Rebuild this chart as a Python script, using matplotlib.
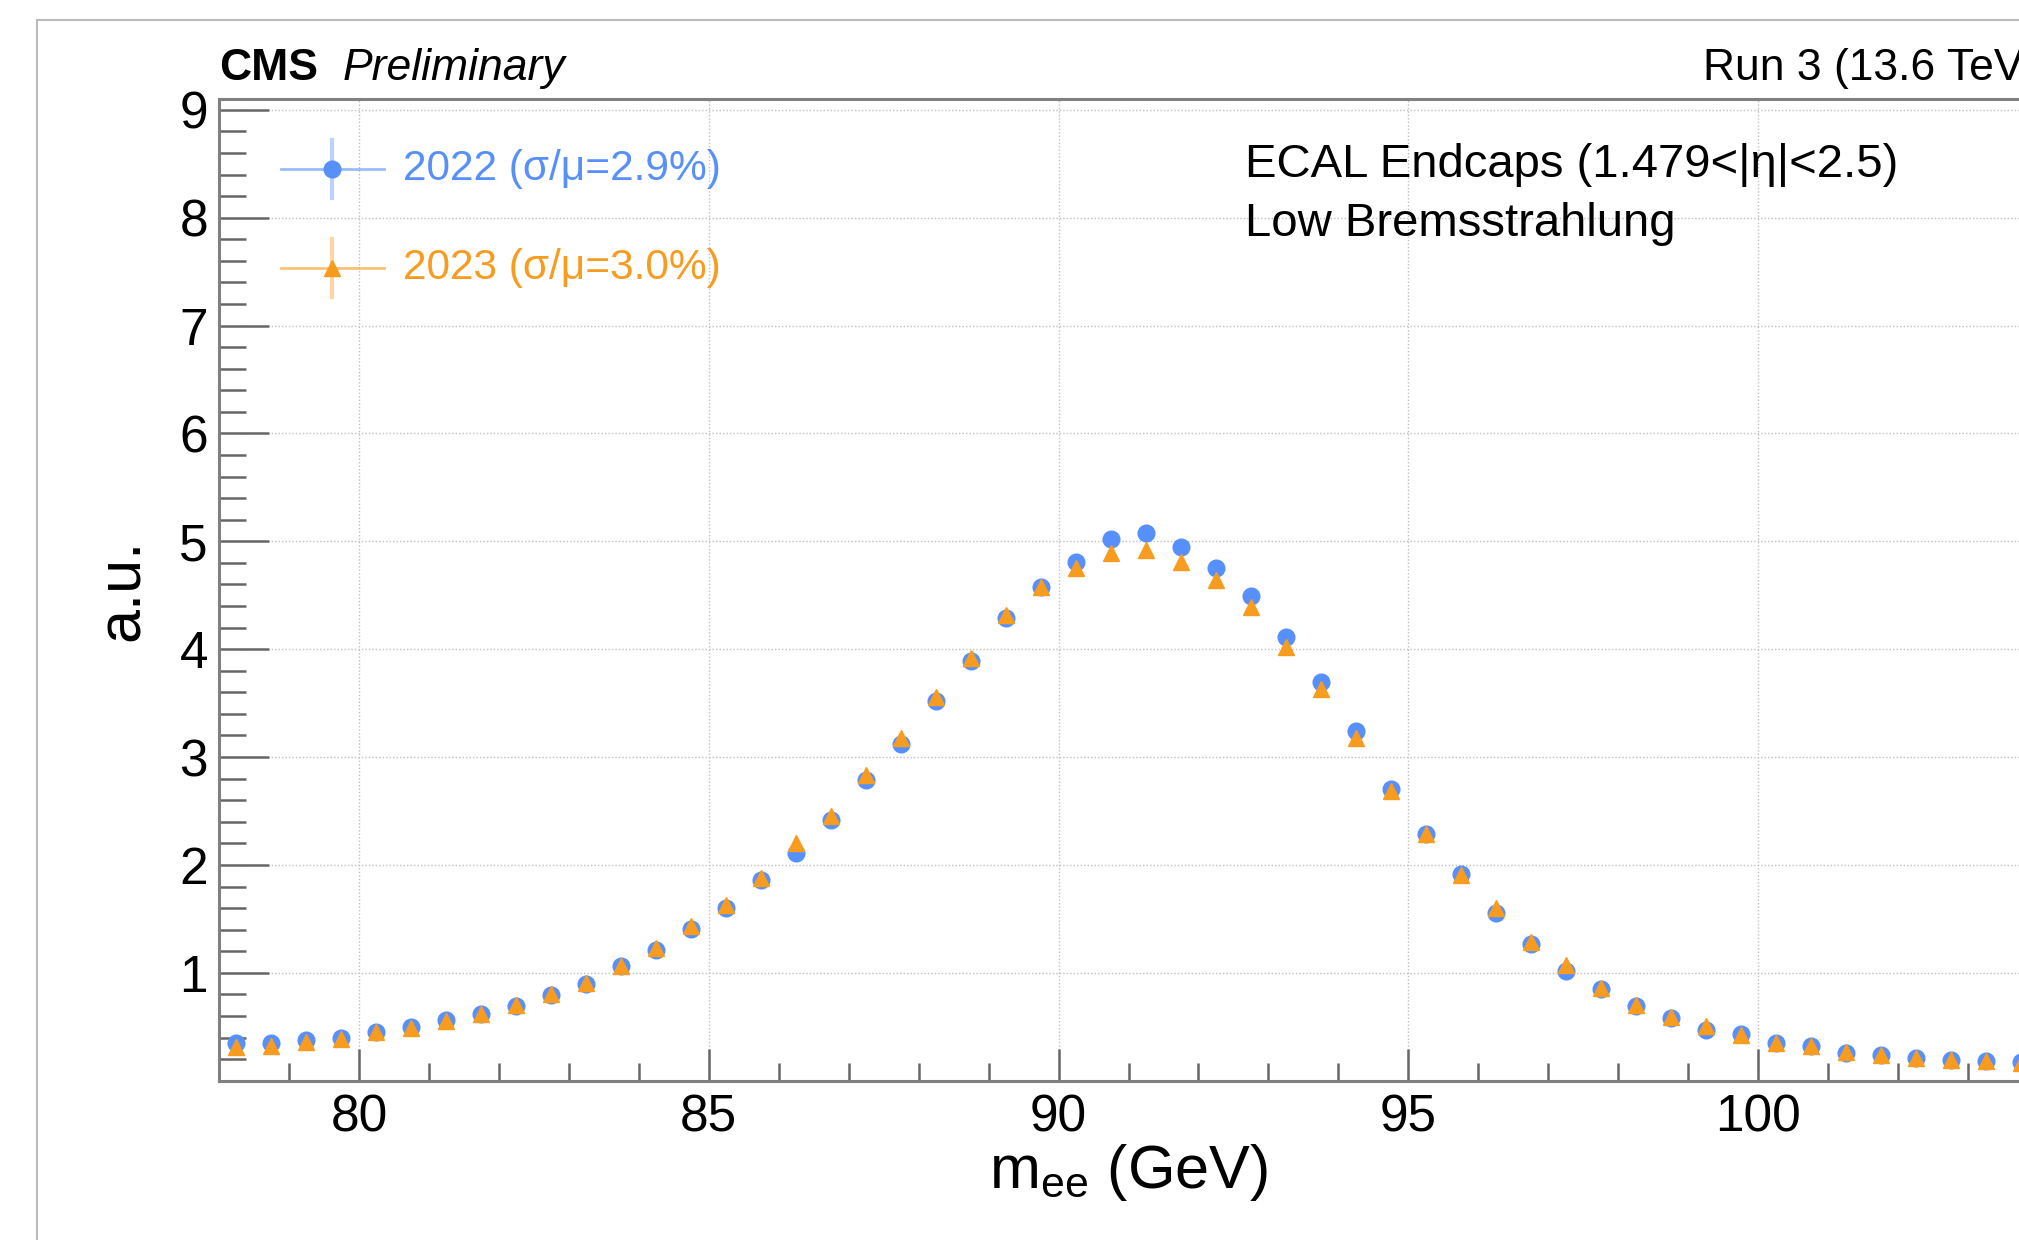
import numpy as np
import matplotlib
matplotlib.use("Agg")
import matplotlib.pyplot as plt
from matplotlib.lines import Line2D
from matplotlib.ticker import MultipleLocator

plt.rcParams['font.family'] = ['Liberation Sans', 'DejaVu Sans']
plt.rcParams['mathtext.fontset'] = 'custom'
plt.rcParams['mathtext.rm'] = 'Liberation Sans'

# bin centres (GeV)
m_ee = [78.25, 78.75, 79.25, 79.75, 80.25, 80.75, 81.25, 81.75, 82.25, 82.75,
        83.25, 83.75, 84.25, 84.75, 85.25, 85.75, 86.25, 86.75, 87.25, 87.75,
        88.25, 88.75, 89.25, 89.75, 90.25, 90.75, 91.25, 91.75, 92.25, 92.75,
        93.25, 93.75, 94.25, 94.75, 95.25, 95.75, 96.25, 96.75, 97.25, 97.75,
        98.25, 98.75, 99.25, 99.75, 100.25, 100.75, 101.25, 101.75, 102.25, 102.75,
        103.25, 103.75]

# 2022
y_2022 = [0.35, 0.35, 0.38, 0.40, 0.45, 0.50, 0.56, 0.62, 0.69, 0.79,
          0.90, 1.06, 1.21, 1.41, 1.60, 1.86, 2.11, 2.42, 2.79, 3.12,
          3.52, 3.89, 4.29, 4.58, 4.81, 5.02, 5.08, 4.95, 4.75, 4.49,
          4.11, 3.70, 3.24, 2.70, 2.29, 1.92, 1.55, 1.27, 1.02, 0.85,
          0.69, 0.58, 0.47, 0.43, 0.35, 0.32, 0.26, 0.24, 0.21, 0.19,
          0.18, 0.17]

# 2023
y_2023 = [0.31, 0.32, 0.36, 0.39, 0.45, 0.49, 0.55, 0.62, 0.70, 0.80,
          0.91, 1.06, 1.23, 1.43, 1.63, 1.88, 2.20, 2.45, 2.83, 3.18,
          3.56, 3.92, 4.32, 4.58, 4.75, 4.89, 4.92, 4.81, 4.64, 4.39,
          4.02, 3.63, 3.18, 2.69, 2.29, 1.91, 1.60, 1.29, 1.07, 0.86,
          0.70, 0.59, 0.51, 0.42, 0.35, 0.32, 0.27, 0.24, 0.21, 0.19,
          0.18, 0.16]

labels = ["2022 (σ/μ=2.9%)", "2023 (σ/μ=3.0%)"]
c_blue = "#5790fc"
c_orange = "#f89c20"

W, H = 2019, 1240
fig = plt.figure(figsize=(W / 100, H / 100), dpi=100)

# outer pad frame (canvas is cropped on the right and bottom)
fig.add_artist(Line2D([37 / W, 1.1], [1 - 20 / H, 1 - 20 / H], color="#bbbbbb", lw=1.5))
fig.add_artist(Line2D([37 / W, 37 / W], [-0.1, 1 - 20 / H], color="#bbbbbb", lw=1.5))

ax = fig.add_axes([219 / W, 1 - 1080.7 / H, 1819 / W, 981.7 / H])

ax.plot(m_ee, y_2022, linestyle="none", marker="o", markersize=12, color=c_blue, zorder=3)
ax.plot(m_ee, y_2023, linestyle="none", marker="^", markersize=11, color=c_orange, zorder=4)

ax.set_xlim(78, 104)
ax.set_ylim(0, 9.1)
ax.xaxis.set_major_locator(MultipleLocator(5))
ax.xaxis.set_minor_locator(MultipleLocator(1))
ax.yaxis.set_major_locator(MultipleLocator(1))
ax.yaxis.set_minor_locator(MultipleLocator(0.2))
ax.set_yticks([1, 2, 3, 4, 5, 6, 7, 8, 9])

ax.grid(True, which="major", linestyle=(0, (1, 1.5)), color="#c0c0c0", lw=1)
ax.set_axisbelow(True)
for s in ax.spines.values():
    s.set_color("#808080")
    s.set_linewidth(2.2)
ax.tick_params(which="both", direction="in", top=False, right=False, color="#666666",
               width=1.8, labelsize=37)
ax.tick_params(axis="x", which="major", length=23, pad=9)
ax.tick_params(axis="x", which="minor", length=13)
ax.tick_params(axis="y", which="major", length=36, pad=8)
ax.tick_params(axis="y", which="minor", length=19.5)

ax.set_xlabel(r"$\mathregular{m_{ee}}$ (GeV)", fontsize=44, labelpad=0)
ax.set_ylabel("a.u.", fontsize=44, labelpad=20)

# legend drawn by hand, ROOT style
for yl, col, mk, ms, lab in [(0.9287, c_blue, "o", 12, labels[0]), (0.8278, c_orange, "^", 11, labels[1])]:
    ax.plot([0.0341, 0.0907], [yl, yl], color=col, lw=2, alpha=0.6, transform=ax.transAxes)
    ax.plot([0.0621, 0.0621], [yl - 0.0295, yl + 0.0295], color=col, lw=3, alpha=0.4,
            transform=ax.transAxes)
    ax.plot([0.0621], [yl], marker=mk, markersize=ms, color=col, transform=ax.transAxes)
    ax.text(0.1012, yl, lab, color=col, fontsize=30.5, va="center", ha="left", transform=ax.transAxes)

ax.text(0.564, 0.9328, "ECAL Endcaps (1.479<|η|<2.5)", fontsize=34, va="center", transform=ax.transAxes)
ax.text(0.564, 0.8725, "Low Bremsstrahlung", fontsize=34, va="center", transform=ax.transAxes)

fig.text(219 / W, 1 - 80 / H, "CMS", fontsize=32, fontweight="bold", va="baseline")
fig.text(342.5 / W, 1 - 80 / H, "Preliminary", fontsize=32, style="italic", va="baseline")
fig.text(2038 / W, 1 - 80 / H, "Run 3 (13.6 TeV)", fontsize=32, ha="right", va="baseline")

fig.savefig("out.png", dpi=100)
